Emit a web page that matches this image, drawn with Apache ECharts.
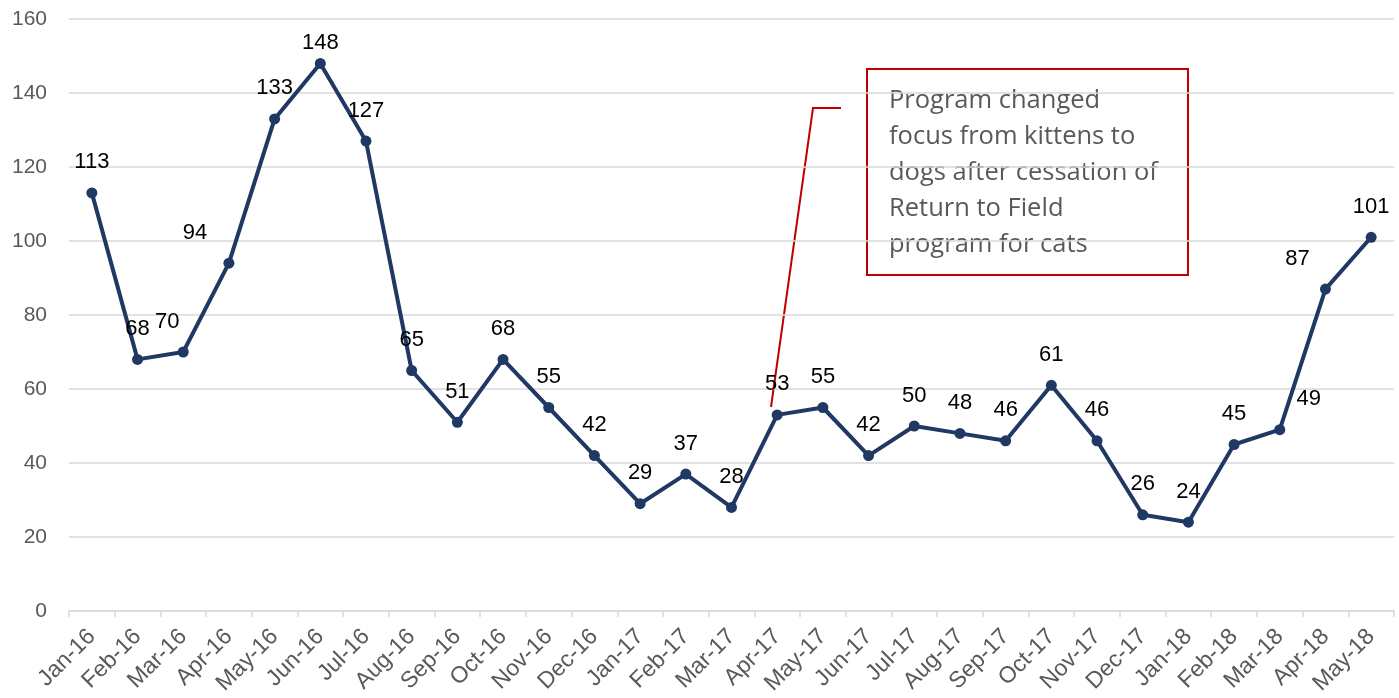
<!DOCTYPE html>
<html><head><meta charset="utf-8">
<script src="https://cdn.jsdelivr.net/npm/echarts@6/dist/echarts.min.js"></script>
<style>html,body{margin:0;padding:0;background:#fff}#c{width:1399px;height:698px}</style>
</head><body><div id="c"></div>
<script>
const categories = ['Jan-16','Feb-16','Mar-16','Apr-16','May-16','Jun-16','Jul-16','Aug-16','Sep-16','Oct-16','Nov-16','Dec-16',
  'Jan-17','Feb-17','Mar-17','Apr-17','May-17','Jun-17','Jul-17','Aug-17','Sep-17','Oct-17','Nov-17','Dec-17',
  'Jan-18','Feb-18','Mar-18','Apr-18','May-18'];
const values = [113,68,70,94,133,148,127,65,51,68,55,42,29,37,28,53,55,42,50,48,46,61,46,26,24,45,49,87,101];
const yTicks = [0,20,40,60,80,100,120,140,160];
const noteText = 'Program changed\nfocus from kittens to\ndogs after cessation of\nReturn to Field\nprogram for cats';

const labelShift = {2:[-16,0],3:[-34,0],5:[0,10],26:[29,0],27:[-28,0]};
const data = values.map((v,i)=>{
  const s = labelShift[i];
  return s ? {value:v,label:{offset:s}} : v;
});

const chart = echarts.init(document.getElementById('c'));
chart.setOption({
  animation:false,
  grid:{left:69,right:5,top:19,bottom:87,containLabel:false,outerBoundsMode:'none'},
  xAxis:{type:'category',data:categories,boundaryGap:true,
    axisLine:{lineStyle:{color:'#d9d9d9',width:1.5}},
    axisTick:{show:true,length:6,lineStyle:{color:'#d9d9d9',width:1.5}},
    axisLabel:{rotate:45,interval:0,color:'#595959',fontSize:23,fontFamily:'Liberation Sans, Arial',margin:22}},
  yAxis:{type:'value',min:0,max:160,interval:20,
    axisLine:{show:false},axisTick:{show:false},
    axisLabel:{color:'#595959',fontSize:21,fontFamily:'Liberation Sans, Arial',margin:22,
      formatter:v=>yTicks.includes(v)?String(v):''},
    splitLine:{lineStyle:{color:'#d9d9d9',width:1.5}}},
  series:[{type:'line',data:data,
    lineStyle:{color:'#203864',width:4},
    itemStyle:{color:'#203864'},
    symbol:'circle',symbolSize:11,
    label:{show:true,position:'top',distance:14,color:'#000',fontSize:22,fontFamily:'Liberation Sans, Arial'}}],
  graphic:[
    {type:'polyline',shape:{points:[[771,407],[813,108],[841,108]]},style:{stroke:'#c00000',lineWidth:2,fill:null}},
    {type:'rect',shape:{x:867,y:69,width:321,height:206},style:{stroke:'#c00000',lineWidth:2,fill:'#fff'}},
    {type:'text',x:889,y:83,style:{text:noteText,fill:'#595959',font:'25.5px "Open Sans"',lineHeight:36}}
  ]
});
</script></body></html>
